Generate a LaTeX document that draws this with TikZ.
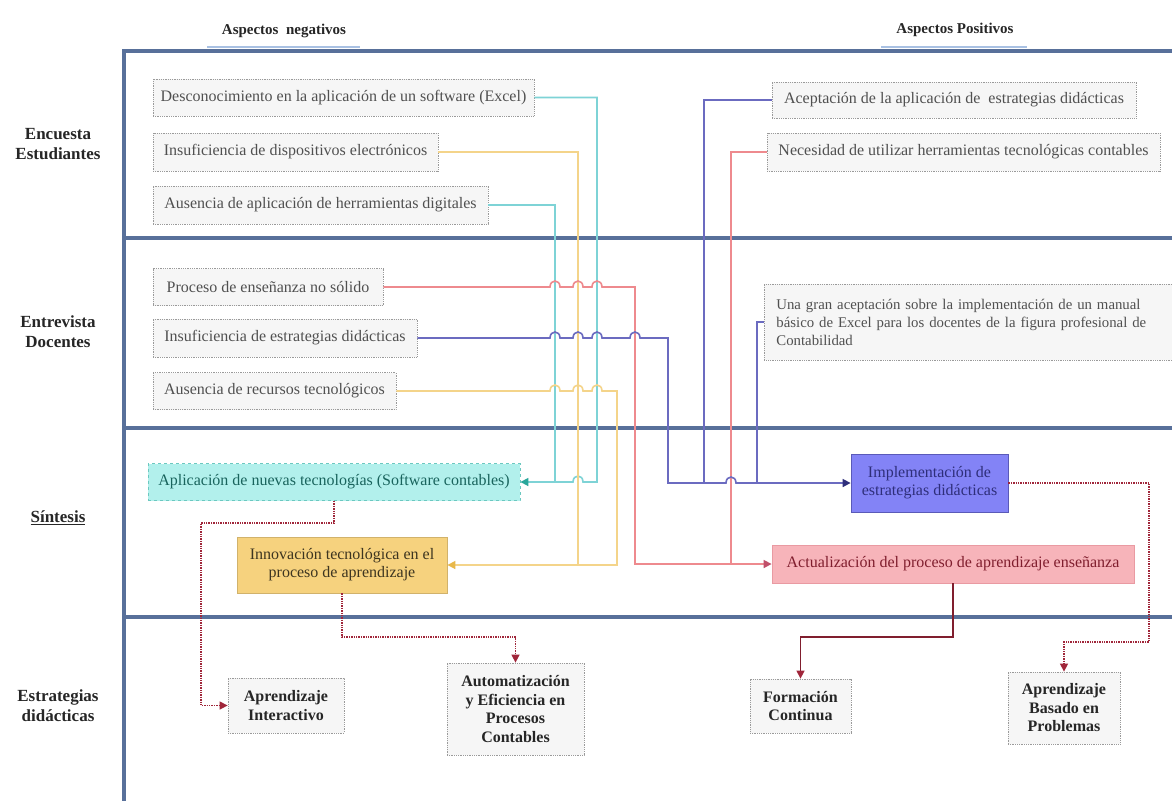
\documentclass[tikz,border=0pt]{standalone}
\usepackage{fontspec}
\setmainfont{Liberation Serif}
\usetikzlibrary{arrows.meta}
\definecolor{framecol}{HTML}{58709A}
\definecolor{ulcol}{HTML}{A9C1E3}
\definecolor{boxgray}{HTML}{9A9A9A}
\definecolor{boxfill}{HTML}{F6F6F6}
\definecolor{boxtext}{HTML}{505050}
\definecolor{cyanline}{HTML}{7ED3D6}
\definecolor{cyanarrow}{HTML}{2AA79B}
\definecolor{yelline}{HTML}{F4D48A}
\definecolor{yelarrow}{HTML}{E8B84A}
\definecolor{redline}{HTML}{EE8A8E}
\definecolor{redarrow}{HTML}{C0506A}
\definecolor{blueline}{HTML}{6B6BC0}
\definecolor{bluearrow}{HTML}{2E2E7A}
\definecolor{darkred}{HTML}{A0263A}
\definecolor{cyanfill}{HTML}{B2F0EC}
\definecolor{cyanborder}{HTML}{6CC8C0}
\definecolor{yelfill}{HTML}{F6D27E}
\definecolor{bluefill}{HTML}{8383F6}
\definecolor{blueborder}{HTML}{5A5AB8}
\definecolor{pinkfill}{HTML}{F7B4BA}
\definecolor{pinkborder}{HTML}{E99AA2}
\begin{document}
\begin{tikzpicture}[x=1pt,y=-1pt,
  gbox/.style={draw=boxgray, densely dotted, line width=0.8pt, fill=boxfill, text=boxtext,
    font=\fontsize{16}{18}\selectfont, inner sep=0pt, align=center},
  ebox/.style={draw=boxgray, densely dotted, line width=0.8pt, fill=boxfill, text=black!85,
    font=\bfseries\fontsize{16}{18.5}\selectfont, inner sep=0pt, align=center},
  rowlab/.style={font=\bfseries\fontsize{17}{20}\selectfont, align=center, text=black!85},
  headlab/.style={font=\bfseries\fontsize{15}{18}\selectfont, text=black!85},
  framel/.style={draw=framecol, line width=3.2pt},
  cyl/.style={draw=cyanline, line width=1.6pt},
  yel/.style={draw=yelline, line width=1.6pt},
  rdl/.style={draw=redline, line width=1.6pt},
  bll/.style={draw=blueline, line width=1.6pt},
  dkl/.style={draw=darkred, line width=1.4pt, densely dotted},
  dks/.style={draw=darkred!80!black, line width=1.4pt},
  tipc/.style={-{Triangle[length=8pt,width=8pt,color=#1]}}
]
\useasboundingbox (0,0) rectangle (1172,801);
\fill[white] (0,0) rectangle (1172,801);

% frame
\draw[framel] (124,51) -- (1172,51);
\draw[framel] (124,238) -- (1172,238);
\draw[framel] (124,428) -- (1172,428);
\draw[framel] (124,617) -- (1172,617);
\draw[framel] (124,49.4) -- (124,801);

% headers
\node[headlab] (hneg) at (284,31) {Aspectos\ \ negativos};
\node[headlab] (hpos) at (955,30) {Aspectos Positivos};
\draw[ulcol, line width=2.5pt] (207,47) -- (360,47);
\draw[ulcol, line width=2.5pt] (881,47) -- (1027,47);

% row labels
\node[rowlab] (r1) at (58,144) {Encuesta\\Estudiantes};
\node[rowlab] (r2) at (58,332) {Entrevista\\Docentes};
\node[rowlab] (r3) at (58,518) {\underline{Síntesis}};
\node[rowlab] (r4) at (58,706) {Estrategias\\didácticas};

% row 1 boxes
\node[gbox, minimum width=381pt, minimum height=37pt] (n1) at (343.5,97.5) {Desconocimiento en la aplicación de un software (Excel)};
\node[gbox, minimum width=285pt, minimum height=38pt] (n2) at (295.5,152) {Insuficiencia de dispositivos electrónicos};
\node[gbox, minimum width=335pt, minimum height=38pt] (n3) at (320.5,205) {Ausencia de aplicación de herramientas digitales};
\node[gbox, minimum width=364pt, minimum height=36pt] (p1) at (954,100) {Aceptación de la aplicación de\ \ estrategias didácticas};
\node[gbox, minimum width=393pt, minimum height=38pt] (p2) at (963.5,152) {Necesidad de utilizar herramientas tecnológicas contables};

% row 2 boxes
\node[gbox, minimum width=230pt, minimum height=37pt] (n4) at (268,287) {Proceso de enseñanza no sólido};
\node[gbox, minimum width=264pt, minimum height=38pt] (n5) at (285,338) {Insuficiencia de estrategias didácticas};
\node[gbox, minimum width=243pt, minimum height=37pt] (n6) at (274.5,391) {Ausencia de recursos tecnológicos};
\node[gbox, anchor=west, align=left, text width=410pt, inner xsep=12pt, minimum height=76pt,
  font=\fontsize{14.8}{18}\selectfont] (p3) at (764,322)
  {Una gran aceptación sobre la implementación de un manual\\básico de Excel para los docentes de la figura profesional de\\Contabilidad};

% row 3 boxes
\node[gbox, fill=cyanfill, draw=cyanborder, dashed, text=cyanarrow!60!black, minimum width=372pt, minimum height=37pt] (s1) at (334,482) {Aplicación de nuevas tecnologías (Software contables)};
\node[gbox, fill=yelfill, draw=yelfill!85!black, solid, text=black!75!yelfill, minimum width=210pt, minimum height=56pt] (s2) at (342,565) {Innovación tecnológica en el\\proceso de aprendizaje};
\node[gbox, fill=bluefill, draw=blueborder, solid, text=bluearrow, minimum width=157pt, minimum height=58pt] (s3) at (929.5,483) {Implementación de\\estrategias didácticas};
\node[gbox, fill=pinkfill, draw=pinkborder, solid, text=darkred!80!black, minimum width=362pt, minimum height=38pt] (s4) at (953,564) {Actualización del proceso de aprendizaje enseñanza};

% row 4 boxes
\node[ebox, minimum width=116pt, minimum height=55pt] (e1) at (286,705.5) {Aprendizaje\\Interactivo};
\node[ebox, minimum width=137pt, minimum height=92pt] (e2) at (515.5,709) {Automatización\\y Eficiencia en\\Procesos\\Contables};
\node[ebox, minimum width=101pt, minimum height=54pt] (e3) at (800.5,706) {Formación\\Continua};
\node[ebox, minimum width=112pt, minimum height=72pt] (e4) at (1064,708) {Aprendizaje\\Basado en\\Problemas};

% cyan connectors
\draw[cyl] (n3.east) -| (555,482);
\draw[cyl, tipc=cyanarrow] (n1.east) -| (597,482) -- (583,482)
  .. controls (583,474) and (573,474) .. (573,482) -- (s1.east);

% yellow connectors
\draw[yel] (n2.east) -| (578,565);
\draw[yel, tipc=yelarrow] (n6.east) -- (550,391)
  .. controls (550,383) and (560,383) .. (560,391) -- (573,391)
  .. controls (573,383) and (583,383) .. (583,391) -- (592,391)
  .. controls (592,383) and (602,383) .. (602,391) -- (617,391) -- (617,565) -- (s2.east);

% red connectors
\draw[rdl] (p2.west) -| (731,564);
\draw[rdl, tipc=redarrow] (n4.east) -- (550,287)
  .. controls (550,279) and (560,279) .. (560,287) -- (573,287)
  .. controls (573,279) and (583,279) .. (583,287) -- (592,287)
  .. controls (592,279) and (602,279) .. (602,287) -- (635,287) -- (635,564) -- (s4.west);

% blue connectors
\draw[bll] (p1.west) -| (704,483);
\draw[bll] (p3.west) -- (757,322) -- (757,483);
\draw[bll, tipc=bluearrow] (n5.east) -- (550,338)
  .. controls (550,330) and (560,330) .. (560,338) -- (573,338)
  .. controls (573,330) and (583,330) .. (583,338) -- (592,338)
  .. controls (592,330) and (602,330) .. (602,338) -- (630,338)
  .. controls (630,330) and (640,330) .. (640,338) -- (668,338) -- (668,483) -- (726,483)
  .. controls (726,475) and (736,475) .. (736,483) -- (s3.west);

% row 3 -> row 4
\draw[dkl, tipc=darkred] (s1.south) |- (201,523) |- (e1.west);
\draw[dkl, tipc=darkred] (s2.south) |- (515.5,637) -- (e2.north);
\draw[dks, tipc=darkred] (s4.south) |- (800.5,637) -- (e3.north);
\draw[dkl, tipc=darkred] (s3.east) -| (1149,642) -| (e4.north);
\end{tikzpicture}
\end{document}
